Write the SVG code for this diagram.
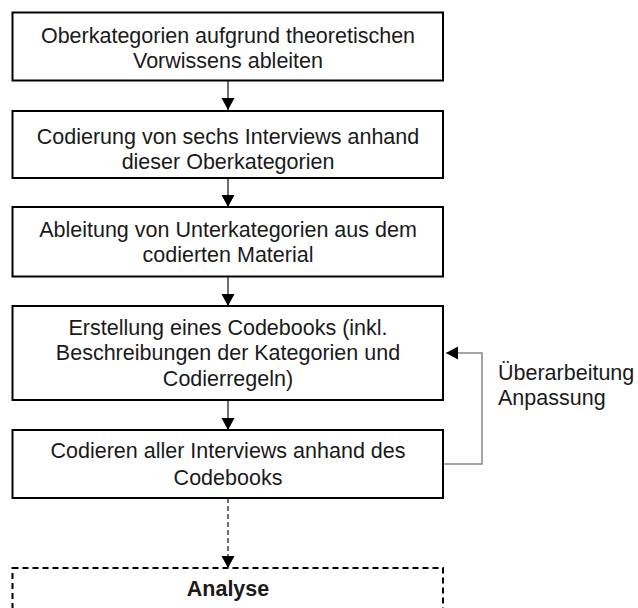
<svg xmlns="http://www.w3.org/2000/svg" width="638" height="608" viewBox="0 0 638 608">
<style>
.box{fill:#fff;stroke:#000;stroke-width:2}
.dbox{fill:#fff;stroke:#000;stroke-width:2;stroke-dasharray:6 4}
.t{font-family:"Liberation Sans",Arial,sans-serif;font-size:21.5px;fill:#1a1a1a;text-anchor:middle}
.lbl{font-family:"Liberation Sans",Arial,sans-serif;font-size:21.5px;fill:#1a1a1a}
.b{font-weight:bold}
.c{fill:none;stroke:#222;stroke-width:1.3}
.cd{fill:none;stroke:#222;stroke-width:1.3;stroke-dasharray:5 3}
.fb{fill:none;stroke:#888;stroke-width:1.5}
</style>
<defs>
<marker id="ah" markerUnits="userSpaceOnUse" markerWidth="14" markerHeight="14" viewBox="0 0 14 14" refX="12" refY="7" orient="auto">
<path d="M0,0.5 L12,7 L0,13.5 Z" fill="#000"/>
</marker>
</defs>
<g id="connectors">
<line class="c" x1="228" y1="81" x2="228" y2="110" marker-end="url(#ah)"/>
<line class="c" x1="228" y1="178" x2="228" y2="207" marker-end="url(#ah)"/>
<line class="c" x1="228" y1="277" x2="228" y2="306" marker-end="url(#ah)"/>
<line class="c" x1="228" y1="400" x2="228" y2="430" marker-end="url(#ah)"/>
<line class="cd" x1="228" y1="498" x2="228" y2="568" marker-end="url(#ah)"/>
<polyline class="fb" points="443,464 482,464 482,353 446,353" marker-end="url(#ah)"/>
</g>
<g id="n1">
<rect class="box" x="12.5" y="12.5" width="430.5" height="68"/>
<text class="t" x="228" y="43">Oberkategorien aufgrund theoretischen</text>
<text class="t" x="228" y="68">Vorwissens ableiten</text>
</g>
<g id="n2">
<rect class="box" x="12.5" y="111" width="430.5" height="67"/>
<text class="t" x="228" y="144">Codierung von sechs Interviews anhand</text>
<text class="t" x="228" y="169">dieser Oberkategorien</text>
</g>
<g id="n3">
<rect class="box" x="12.5" y="207" width="430.5" height="69.5"/>
<text class="t" x="228" y="237">Ableitung von Unterkategorien aus dem</text>
<text class="t" x="228" y="262">codierten Material</text>
</g>
<g id="n4">
<rect class="box" x="12.5" y="306" width="430.5" height="94"/>
<text class="t" x="228" y="335">Erstellung eines Codebooks (inkl.</text>
<text class="t" x="228" y="360">Beschreibungen der Kategorien und</text>
<text class="t" x="228" y="386">Codierregeln)</text>
</g>
<g id="n5">
<rect class="box" x="12.5" y="430" width="430.5" height="68"/>
<text class="t" x="228" y="458">Codieren aller Interviews anhand des</text>
<text class="t" x="228" y="485">Codebooks</text>
</g>
<g id="n6">
<rect class="dbox" x="12.5" y="568" width="430.5" height="60"/>
<text class="t b" x="228" y="596">Analyse</text>
</g>
<g id="feedback-label">
<text class="lbl" x="498" y="380">Überarbeitung</text>
<text class="lbl" x="498" y="405">Anpassung</text>
</g>
</svg>
